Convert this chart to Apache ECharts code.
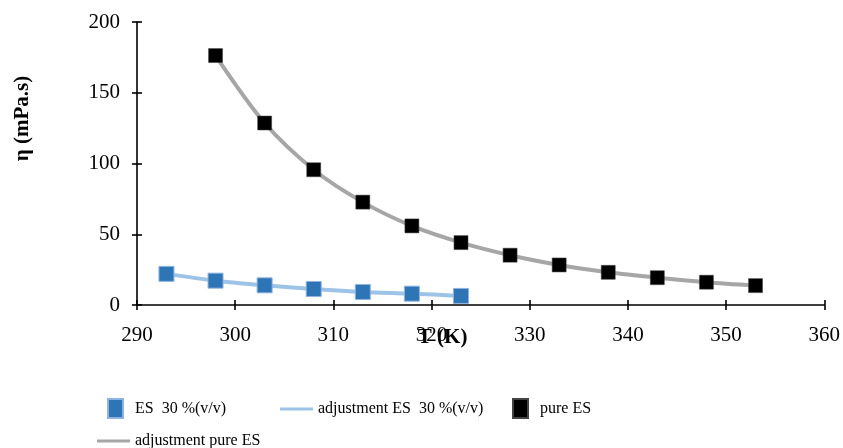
<!DOCTYPE html>
<html><head><meta charset="utf-8">
<script src="https://cdn.jsdelivr.net/npm/echarts@6/dist/echarts.min.js"></script>
<style>html,body{margin:0;padding:0;background:#fff}#c{width:843px;height:448px}</style>
</head><body><div id="c"></div>
<script>
const tES30 = [293, 298, 303, 308, 313, 318, 323];
const etaES30 = [22.0, 17.2, 13.9, 11.3, 9.2, 8.0, 6.4];
const tPure = [298, 303, 308, 313, 318, 323, 328, 333, 338, 343, 348, 353];
const etaPure = [176.3, 128.6, 95.6, 72.7, 55.9, 44.1, 35.2, 28.3, 23.1, 19.3, 16.1, 13.7];
const xTicks = [290, 300, 310, 320, 330, 340, 350, 360];
const yTicks = [0, 50, 100, 150, 200];
const names = ['ES  30 %(v/v)', 'adjustment ES  30 %(v/v)', 'pure ES', 'adjustment pure ES'];

const pairs = (xs, ys) => xs.map((x, i) => [x, ys[i]]);
const font = 'Liberation Serif';
const chart = echarts.init(document.getElementById('c'));
const axisLine = {show: true, lineStyle: {color: '#000', width: 1.6}};
const legendBase = {orient: 'horizontal', padding: 0, selectedMode: false};
const lt = (pad) => ({fontFamily: font, fontSize: 16, color: '#000', padding: [0, 0, 0, pad]});
chart.setOption({
  animation: false,
  backgroundColor: '#fff',
  grid: {left: 137, right: 17, top: 22, bottom: 143},
  xAxis: [{
    type: 'value', min: xTicks[0], max: xTicks[xTicks.length - 1], interval: 10,
    axisLine, axisTick: {show: true, length: 5, lineStyle: {color: '#000', width: 1.6}},
    axisLabel: {fontFamily: font, fontSize: 21, color: '#000', margin: 20},
    splitLine: {show: false},
    name: 'T (K)', nameLocation: 'middle', nameGap: 22, nameMoveOverlap: false,
    nameTextStyle: {fontFamily: font, fontSize: 21, fontWeight: 'bold', color: '#000', padding: [0, 76, 0, 0]}
  }, {
    type: 'value', position: 'bottom', min: xTicks[0], max: xTicks[xTicks.length - 1], interval: 10,
    axisLine: {show: false}, axisTick: {show: true, inside: true, length: 5, lineStyle: {color: '#000', width: 1.6}},
    axisLabel: {show: false}, splitLine: {show: false}
  }],
  yAxis: [{
    type: 'value', min: yTicks[0], max: yTicks[yTicks.length - 1], interval: 50,
    axisLine, axisTick: {show: true, length: 5, lineStyle: {color: '#000', width: 1.6}},
    axisLabel: {fontFamily: font, fontSize: 21, color: '#000', margin: 17},
    splitLine: {show: false},
    name: 'η (mPa.s)', nameLocation: 'middle', nameGap: 104, nameMoveOverlap: false,
    nameTextStyle: {fontFamily: font, fontSize: 21, fontWeight: 'bold', color: '#000', padding: [0, 0, 0, 90]}
  }, {
    type: 'value', position: 'left', min: yTicks[0], max: yTicks[yTicks.length - 1], interval: 50,
    axisLine: {show: false}, axisTick: {show: true, inside: true, length: 5, lineStyle: {color: '#000', width: 1.6}},
    axisLabel: {show: false}, splitLine: {show: false}
  }],
  legend: [
    Object.assign({}, legendBase, {data: [names[0]], left: 107, top: 398, icon: 'rect', itemWidth: 15, itemHeight: 19, textStyle: lt(7)}),
    Object.assign({}, legendBase, {data: [names[1]], left: 280, top: 401, icon: 'rect', itemWidth: 33, itemHeight: 3, textStyle: lt(0)}),
    Object.assign({}, legendBase, {data: [names[2]], left: 512, top: 398, icon: 'rect', itemWidth: 15, itemHeight: 19, textStyle: lt(7)}),
    Object.assign({}, legendBase, {data: [names[3]], left: 97, top: 433, icon: 'rect', itemWidth: 33, itemHeight: 3, textStyle: lt(0)})
  ],
  series: [
    {name: names[1], type: 'line', smooth: 0.3, showSymbol: false, symbol: 'none', data: pairs(tES30, etaES30),
     lineStyle: {color: '#9DC3E6', width: 4}, itemStyle: {color: '#9DC3E6'}, z: 2},
    {name: names[3], type: 'line', smooth: 0.3, showSymbol: false, symbol: 'none', data: pairs(tPure, etaPure),
     lineStyle: {color: '#A6A6A6', width: 4}, itemStyle: {color: '#A6A6A6'}, z: 2},
    {name: names[0], type: 'scatter', symbol: 'rect', symbolSize: 15, data: pairs(tES30, etaES30),
     itemStyle: {color: '#2E75B6', borderColor: '#8DB3E2', borderWidth: 1, opacity: 1}, z: 3},
    {name: names[2], type: 'scatter', symbol: 'rect', symbolSize: 14, data: pairs(tPure, etaPure),
     itemStyle: {color: '#000', borderColor: '#444', borderWidth: 0.5, opacity: 1}, z: 3}
  ]
});
</script></body></html>
